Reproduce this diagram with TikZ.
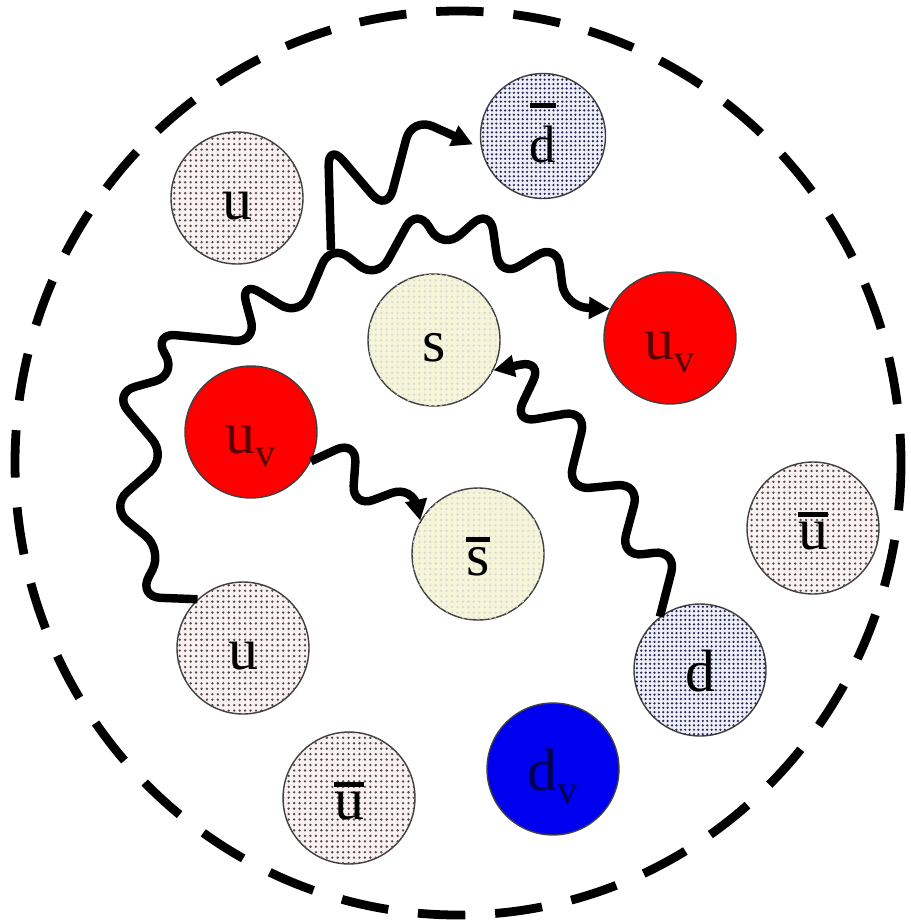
\documentclass[tikz,border=0pt]{standalone}
\usepackage{fontspec}
\setmainfont{Liberation Serif}
\usetikzlibrary{arrows.meta,patterns}
\pgfdeclarepatternformonly{bigdots}{\pgfqpoint{-1pt}{-1pt}}{\pgfqpoint{1pt}{1pt}}{\pgfqpoint{3.1pt}{3.1pt}}%
  {\pgfpathcircle{\pgfqpoint{0pt}{0pt}}{0.75pt}\pgfusepath{fill}}
\pgfdeclarepatternformonly{densedots}{\pgfqpoint{-1pt}{-1pt}}{\pgfqpoint{1pt}{1pt}}{\pgfqpoint{2.5pt}{2.5pt}}%
  {\pgfpathcircle{\pgfqpoint{0pt}{0pt}}{0.7pt}\pgfusepath{fill}}
\newcommand\obar[3]{\leavevmode\setbox0\hbox{#3}\rlap{\raisebox{#1}{\rule{\wd0}{#2}}}\box0}
\newcommand\valsub[1]{#1\raisebox{-7pt}{\fontsize{23}{23}\selectfont v}}
\definecolor{pinkf}{HTML}{FCF1F1}
\definecolor{bluef}{HTML}{ECEEF8}
\definecolor{creamf}{HTML}{F7F5D8}
\definecolor{redf}{HTML}{FF0000}
\definecolor{bluev}{HTML}{0000F0}
\begin{document}
\begin{tikzpicture}[x=0.02cm,y=-0.02cm,
  quark/.style={circle, draw=black!75, line width=0.8pt, minimum size=2.64cm, inner sep=0pt,
    text height=25pt, text depth=0pt, font=\fontsize{34}{34}\selectfont},
  seaU/.style={quark, fill=pinkf, postaction={pattern=bigdots, pattern color=black!70}},
  seaD/.style={quark, fill=bluef, postaction={pattern=densedots, pattern color=blue!20!black!85}},
  seaS/.style={quark, fill=creamf, postaction={pattern=bigdots, pattern color=black!15}},
  valU/.style={quark, fill=redf, text=red!35!black},
  valD/.style={quark, fill=bluev, text=blue!30!black},
  gluon/.style={line width=4.8pt, rounded corners=13pt, line join=round},
  tip/.style={-{Triangle[length=12pt,width=12pt]}}]
\useasboundingbox (0,0) rectangle (910,923);
% proton boundary
\draw[line width=5pt, dash pattern=on 27pt off 17pt] (458,463) ellipse [x radius=443, y radius=452];
% quarks
\node[seaU] (ut) at (237,198) {u};
\node[seaD, minimum size=2.5cm, text height=30pt, font=\fontsize{30}{30}\selectfont] (db) at (543,136) {\obar{31pt}{3pt}{d}};
\node[seaS] (s) at (434,340) {s};
\node[valU] (uvR) at (670,338) {\valsub{u}};
\node[valU] (uvL) at (251,432) {\valsub{u}};
\node[seaS] (sb) at (478,554) {\obar{19.5pt}{2.5pt}{s}};
\node[seaU] (ubR) at (813,528) {\obar{19pt}{2.5pt}{u}};
\node[seaU] (ub) at (243,648) {u};
\node[seaD] (d) at (700,670) {d};
\node[valD] (dv) at (553,769) {\valsub{d}};
\node[seaU] (ubB) at (349,798) {\obar{19pt}{2.5pt}{u}};
% gluons
\coordinate (J) at (331,250);
\draw[gluon,tip] (ub.133) -- (138,597) -- (163,550) -- (110,507) -- (167,457) -- (113,393)
  -- (177,375) -- (153,333) -- (257,343) -- (240,280) -- (300,317) -- (331,243) -- (377,280)
  -- (417,207) -- (443,250) -- (490,208) -- (500,278) -- (557,243) -- (565,307) -- (uvR.154);
\draw[gluon,tip,shorten >=5pt] (J) -- (328,143) -- (387,212) -- (412,117) -- (db.191);
\draw[gluon,tip] (uvL.-26) -- (357,440) -- (352,508) -- (413,485) -- (sb.150);
\draw[gluon,tip] (d.127) -- (677,550) -- (620,557) -- (640,483) -- (567,490) -- (587,410)
  -- (513,423) -- (543,360) -- (s.-27);
\end{tikzpicture}
\end{document}
